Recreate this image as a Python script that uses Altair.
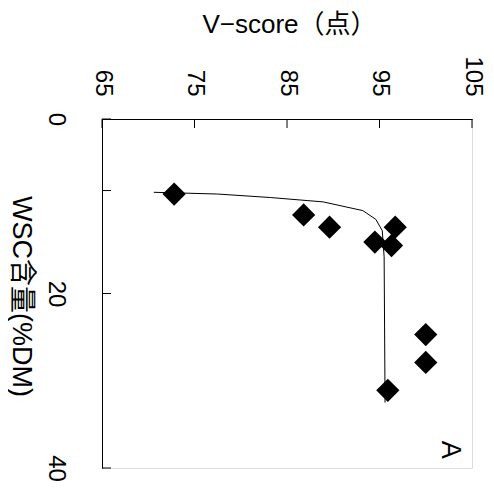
import altair as alt
import pandas as pd

# observed points
v_score = [72.8, 86.8, 89.6, 96.7, 94.5, 96.3, 100.0, 100.0, 95.9]
wsc = [8.6, 11.0, 12.4, 12.4, 14.1, 14.5, 24.7, 27.9, 31.1]

# fitted curve
curve_v = [70.6, 77.5, 83.2, 88.9, 93.2, 94.6, 95.3, 95.5, 95.6]
curve_wsc = [8.4, 8.6, 9.0, 9.5, 10.5, 11.5, 12.8, 15.8, 32.5]

x_ticks = [65, 75, 85, 95, 105]
y_ticks = [0, 8.2, 20, 40]
y_labels = [0, 20, 40]

panel_label = ["A"]
panel_v = [102.6]
panel_wsc = [37.9]

FONT = "Liberation Sans, Noto Sans CJK JP, sans-serif"

pts = pd.DataFrame({"V": v_score, "WSC": wsc})
curve = pd.DataFrame({"V": curve_v, "WSC": curve_wsc, "i": list(range(len(curve_v)))})
xt = pd.DataFrame({"V": x_ticks})
yt = pd.DataFrame({"WSC": y_ticks})
lab = pd.DataFrame({"V": panel_v, "WSC": panel_wsc, "t": panel_label})

x_scale = alt.Scale(domain=[65, 105], nice=False, zero=False)
y_scale = alt.Scale(domain=[0, 40], nice=False, zero=False, reverse=True)

x_axis = alt.Axis(
    orient="top", values=x_ticks, ticks=False, grid=False,
    domainColor="black", domainWidth=1,
    labelAngle=90, labelAlign="right", labelBaseline="middle",
    labelPadding=23, labelFontSize=24, labelFont=FONT, labelColor="black",
    title="V−score（点）", titleFontSize=26, titleFont=FONT, titleFontWeight="normal",
    titleColor="black", titleX=187, titleY=-95, titleAlign="center", titleBaseline="middle",
    titleAngle=0,
)
y_axis = alt.Axis(
    orient="left", values=y_labels, ticks=False, grid=False,
    domainColor="black", domainWidth=1,
    labelAngle=90, labelAlign="center", labelBaseline="middle",
    labelPadding=47, labelFontSize=24, labelFont=FONT, labelColor="black",
    title="WSC含量(%DM)", titleFontSize=27, titleFont=FONT, titleFontWeight="normal",
    titleColor="black", titleX=-82, titleY=177, titleAlign="center", titleBaseline="middle",
    titleAngle=90,
)

X = alt.X("V:Q", scale=x_scale, axis=x_axis)
Y = alt.Y("WSC:Q", scale=y_scale, axis=y_axis)

points = alt.Chart(pts).mark_point(
    shape="diamond", filled=True, color="black", size=540, opacity=1
).encode(x=X, y=Y)

line = alt.Chart(curve).mark_line(color="black", strokeWidth=1).encode(
    x=X, y=Y, order="i:Q"
)

xtick_rules = alt.Chart(xt).mark_rule(color="black", strokeWidth=1).encode(
    x=X, y=alt.value(0), y2=alt.value(9)
)
ytick_rules = alt.Chart(yt).mark_rule(color="black", strokeWidth=1).encode(
    y=Y, x=alt.value(0), x2=alt.value(9)
)

text = alt.Chart(lab).mark_text(
    angle=90, fontSize=27, font=FONT, color="black", align="center", baseline="middle"
).encode(x=X, y=Y, text="t:N")

chart = alt.layer(xtick_rules, ytick_rules, line, points, text).properties(
    width=370, height=349,
    autosize=alt.AutoSizeParams(type="none"),
    padding={"left": 94, "top": 111, "right": 14, "bottom": 13},
).configure_view(stroke=None).configure(background="white")

chart.save("out.html", embed_options={"renderer": "svg", "actions": False})
